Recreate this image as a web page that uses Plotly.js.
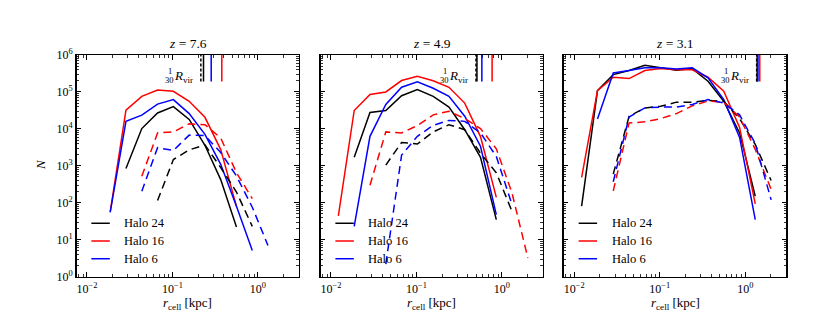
<!DOCTYPE html>
<html>
<head>
<meta charset="utf-8">
<script src="https://cdn.plot.ly/plotly-3.0.1.min.js"></script>
<style>
  html, body { margin: 0; padding: 0; background: #fff; }
  #chart { width: 830px; height: 332px; }
</style>
</head>
<body>
<div id="chart"></div>
<script>
// cell radius bins [kpc], shared by every panel
const rCell = [0.0122, 0.0187, 0.0286, 0.0438, 0.067, 0.1025, 0.157, 0.240, 0.367, 0.561, 0.859, 1.31, 2.01]

const haloNames = ["Halo 24", "Halo 16", "Halo 6"]
const haloColors = ["#000000", "#ff0000", "#0000ff"]
const redshifts = ["7.6", "4.9", "3.1"]

// z = 7.6 : all cells (solid) and dashed subset
const z76Solid24 = [null, null, 850, 10200, 27000, 40000, 18000, 3600, 425, 22, null, null, null]
const z76Solid16 = [null, 57, 32000, 76000, 113000, 104000, 56000, 20600, 2750, 80, null, null, null]
const z76Solid6 = [null, 55, 16000, 23500, 47000, 62000, 26000, 7100, 1100, 81, 5.1, null, null]
const z76Dash24 = [null, null, null, null, 115, 1480, 2700, 3700, 900, 195, 23, null, null]
const z76Dash16 = [null, null, null, 520, 7800, 8300, 13700, 13000, 5700, 650, 130, null, null]
const z76Dash6 = [null, null, null, 205, 3100, 2600, 6800, 6600, 2300, 530, 76, 7, null]

// z = 4.9
const z49Solid24 = [null, 1700, 28000, 31500, 79000, 116000, 76000, 39000, 9500, 1700, 35, null, null]
const z49Solid16 = [44, 31500, 85000, 100000, 204000, 264000, 200000, 134000, 50000, 6200, 140, null, null]
const z49Solid6 = [null, 23, 6300, 46000, 134000, 187000, 126000, 76000, 22000, 3400, 48, null, null]
const z49Dash24 = [null, null, null, 1050, 4300, 3900, 8300, 13000, 9500, 2200, 650, 59, null]
const z49Dash16 = [null, null, 300, 8300, 7800, 12300, 24000, 30000, 19000, 10200, 2900, 185, 3.2]
const z49Dash6 = [null, null, null, 2.2, 1950, 6300, 12500, 17000, 16000, 7800, 1800, 90, null]

// z = 3.1
const z31Solid24 = [81, 109000, 295000, 380000, 525000, 445000, 390000, 430000, 195000, 56000, 7800, 150, null]
const z31Solid16 = [490, 109000, 250000, 230000, 380000, 430000, 400000, 400000, 250000, 105000, 11000, 93, null]
const z31Solid6 = [null, 18500, 325000, 380000, 450000, 450000, 420000, 450000, 240000, 62000, 5900, 35, null]
const z31Dash24 = [null, null, 600, 22000, 37000, 41000, 53000, 53000, 59000, 56000, 19000, 3800, 400]
const z31Dash16 = [null, null, 210, 14500, 15500, 19000, 26000, 42000, 57000, 52000, 21000, 2800, 230]
const z31Dash6 = [null, null, 370, 21000, 37000, 39000, 39000, 46000, 62000, 50000, 24000, 4000, 120]

// R_vir / 30 markers [kpc], order: Halo 24, Halo 16, Halo 6
const rvir76 = [0.231, 0.378, 0.284]
const rvir49 = [0.51, 0.767, 0.582]
const rvir31 = [1.38, 1.48, 1.41]
// extra dashed black marker in each panel
const rvirDashed24 = [0.215, 0.497, 1.36]

const xTickVals = [0.01, 0.1, 1]
const xTickText = ["10<sup>−2</sup>", "10<sup>−1</sup>", "10<sup>0</sup>"]
const yTickVals = [1, 10, 100, 1e3, 1e4, 1e5, 1e6]
const yTickText = ["10<sup>0</sup>", "10<sup>1</sup>", "10<sup>2</sup>", "10<sup>3</sup>", "10<sup>4</sup>", "10<sup>5</sup>", "10<sup>6</sup>"]

const panels = [
  { solid: [z76Solid24, z76Solid16, z76Solid6], dashed: [z76Dash24, z76Dash16, z76Dash6], rvir: rvir76 },
  { solid: [z49Solid24, z49Solid16, z49Solid6], dashed: [z49Dash24, z49Dash16, z49Dash6], rvir: rvir49 },
  { solid: [z31Solid24, z31Solid16, z31Solid6], dashed: [z31Dash24, z31Dash16, z31Dash6], rvir: rvir31 },
]

const font = '"Liberation Serif", "DejaVu Serif", serif'
const xDomains = [[0.0924, 0.3602], [0.3864, 0.6542], [0.6795, 0.9473]]
const yDomain = [0.1666, 0.8343]

// minor tick positions
function minorTicks(kFrom, kTo) {
  const out = []
  for (let k = kFrom; k <= kTo; k++) {
    for (let m = 2; m <= 9; m++) out.push(m * Math.pow(10, k))
  }
  return out
}
const xMinor = minorTicks(-3, 0)
const yMinor = minorTicks(0, 5)

const traces = []
const shapes = []
const annotations = []
const layout = {
  width: 830,
  height: 332,
  margin: { l: 0, r: 0, t: 0, b: 0 },
  paper_bgcolor: "#ffffff",
  plot_bgcolor: "#ffffff",
  showlegend: false,
  font: { family: font, color: "#000" },
}

const legendRows = [0.241, 0.161, 0.081]

panels.forEach((p, i) => {
  const n = i === 0 ? "" : String(i + 1)
  const xa = "x" + n
  const ya = "y" + n

  // curves
  for (let h = 0; h < 3; h++) {
    traces.push({
      x: rCell, y: p.solid[h], xaxis: xa, yaxis: ya, type: "scatter", mode: "lines",
      name: haloNames[h], line: { color: haloColors[h], width: 1.5 }, hoverinfo: "skip",
    })
  }
  for (let h = 0; h < 3; h++) {
    traces.push({
      x: rCell, y: p.dashed[h], xaxis: xa, yaxis: ya, type: "scatter", mode: "lines",
      name: haloNames[h] + " (dashed)", line: { color: haloColors[h], width: 1.5, dash: "8px,5px" }, hoverinfo: "skip",
    })
  }

  const axCommon = {
    type: "log", showline: true, linecolor: "#000", linewidth: 1.5, mirror: "allticks",
    ticks: "inside", ticklen: 4.5, tickwidth: 1, tickcolor: "#000",
    showgrid: false, zeroline: false,
    tickfont: { family: font, size: 12, color: "#000" },
  }

  layout["xaxis" + n] = Object.assign({}, axCommon, {
    domain: xDomains[i], anchor: ya, range: [-2.12, 0.48],
    tickmode: "array", tickvals: xTickVals, ticktext: xTickText,
    minor: { tickmode: "array", tickvals: xMinor, ticks: "inside", ticklen: 2.5, tickwidth: 0.8, tickcolor: "#000" },
  })
  layout["yaxis" + n] = Object.assign({}, axCommon, {
    domain: yDomain, anchor: xa, range: [0, 6],
    tickmode: "array", tickvals: yTickVals, ticktext: yTickText, showticklabels: i === 0,
    minor: { tickmode: "array", tickvals: yMinor, ticks: "inside", ticklen: 2.5, tickwidth: 0.8, tickcolor: "#000" },
  })

  // panel title
  annotations.push({
    xref: xa + " domain", yref: ya + " domain", x: 0.5, y: 1.05, xanchor: "center", yanchor: "middle",
    text: "<i>z</i> = " + redshifts[i], showarrow: false, font: { family: font, size: 13.5, color: "#000" },
  })
  // x label
  annotations.push({
    xref: xa + " domain", yref: "paper", x: 0.5, y: 1 - 303 / 332, xanchor: "center", yanchor: "middle",
    text: "<i>r</i><sub>cell</sub> [kpc]", showarrow: false, font: { family: font, size: 13, color: "#000" },
  })

  // R_vir/30 markers
  const markers = [
    { x: rvirDashed24[i], color: haloColors[0], dash: "3px,2px" },
    { x: p.rvir[0], color: haloColors[0], dash: "solid" },
    { x: p.rvir[2], color: haloColors[2], dash: "solid" },
    { x: p.rvir[1], color: haloColors[1], dash: "solid" },
  ]
  markers.forEach((m) => {
    shapes.push({
      type: "line", xref: xa, yref: ya + " domain", x0: m.x, x1: m.x, y0: 0.88, y1: 1,
      line: { color: m.color, width: 1.5, dash: m.dash },
    })
  })
  const anchorX = Math.log10(rvirDashed24[i])
  annotations.push({
    xref: xa, yref: ya + " domain", x: anchorX, xshift: -31, y: 0.926, xanchor: "center", yanchor: "middle",
    text: "1", showarrow: false, font: { family: font, size: 8.5, color: "#000" },
  })
  annotations.push({
    xref: xa, yref: ya + " domain", x: anchorX, xshift: -31, y: 0.887, xanchor: "center", yanchor: "middle",
    text: "30", showarrow: false, font: { family: font, size: 8.5, color: "#000" },
  })
  shapes.push({
    type: "line", xref: xa, yref: ya + " domain", xsizemode: "pixel", xanchor: rvirDashed24[i],
    x0: -36, x1: -26, y0: 0.907, y1: 0.907, line: { color: "#000", width: 0.6 },
  })
  annotations.push({
    xref: xa, yref: ya + " domain", x: anchorX, xshift: -6, y: 0.905, xanchor: "right", yanchor: "middle",
    text: "<i>R</i><sub>vir</sub>", showarrow: false, font: { family: font, size: 13, color: "#000" },
  })

  // legend drawn by hand, matplotlib style
  for (let h = 0; h < 3; h++) {
    shapes.push({
      type: "line", xref: xa + " domain", yref: ya + " domain", x0: 0.066, x1: 0.149,
      y0: legendRows[h], y1: legendRows[h], line: { color: haloColors[h], width: 1.5 },
    })
    annotations.push({
      xref: xa + " domain", yref: ya + " domain", x: 0.205, y: legendRows[h], xanchor: "left", yanchor: "middle",
      text: haloNames[h], showarrow: false, font: { family: font, size: 12.5, color: "#000" },
    })
  }
})

// y label
annotations.push({
  xref: "paper", yref: "paper", x: 40 / 830, y: 1 - 165 / 332, xanchor: "center", yanchor: "middle",
  text: "<i>N</i>", textangle: -90, showarrow: false, font: { family: font, size: 13, color: "#000" },
})

layout.shapes = shapes
layout.annotations = annotations

Plotly.newPlot("chart", traces, layout, { staticPlot: true, displayModeBar: false })
</script>
</body>
</html>
